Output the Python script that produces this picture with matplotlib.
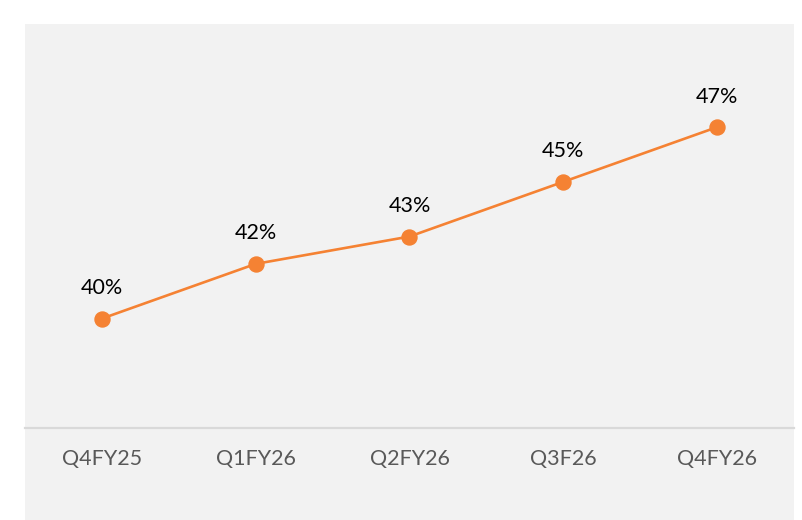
import matplotlib.pyplot as plt
from matplotlib.patches import Rectangle

quarters = ["Q4FY25", "Q1FY26", "Q2FY26", "Q3F26", "Q4FY26"]
margin_pct = [40, 42, 43, 45, 47]

LINE_COLOR = "#F58233"
BG_COLOR = "#F2F2F2"

plt.rcParams['font.family'] = ['Lato', 'DejaVu Sans']

W, H = 803, 520
fig = plt.figure(figsize=(W / 100, H / 100), dpi=100, facecolor="white")

# grey panel behind the chart
fig.patches.append(Rectangle((25 / W, 0), 769 / W, 496 / H, transform=fig.transFigure,
                             facecolor=BG_COLOR, edgecolor="none", zorder=-10))

ax = fig.add_axes([25 / W, (H - 428) / H, 769 / W, 404 / H])
ax.set_facecolor("none")

x = list(range(len(quarters)))
ax.plot(x, margin_pct, color=LINE_COLOR, linewidth=1.9, marker="o",
        markersize=10.8, markerfacecolor=LINE_COLOR, markeredgecolor=LINE_COLOR)

for xi, v in zip(x, margin_pct):
    ax.annotate(f"{v}%", (xi, v), xytext=(0, 22), textcoords="offset points",
                ha="center", va="center", fontsize=15.5, color="black")

ax.set_xlim(-0.5, 4.5)
ax.set_ylim(36, 50.77)
ax.set_xticks(x)
ax.set_xticklabels(quarters, fontsize=15.5, color="#595959")
ax.tick_params(axis="x", length=0, pad=15)
ax.set_yticks([])

for side in ["top", "right", "left"]:
    ax.spines[side].set_visible(False)
ax.spines["bottom"].set_color("#D9D9D9")
ax.spines["bottom"].set_linewidth(1.6)

fig.savefig("out.png", dpi=100, facecolor="white")
